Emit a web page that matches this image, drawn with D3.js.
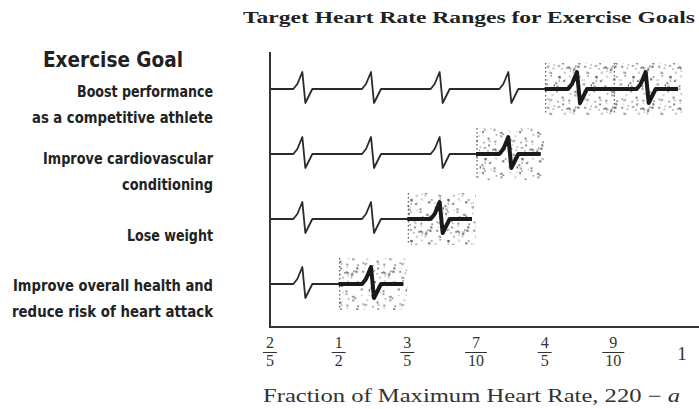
<!DOCTYPE html>
<html>
<head>
<meta charset="utf-8">
<script src="https://cdn.jsdelivr.net/npm/d3@7"></script>
<style>
  body { margin: 0; background: #fff; }
  svg { display: block; }
</style>
</head>
<body>
<svg width="699" height="409"></svg>
<script>
// goals, top row first, and their target ranges (fraction of max heart rate)
const goalLabels = [
  ['Boost performance', 'as a competitive athlete'],
  ['Improve cardiovascular', 'conditioning'],
  ['Lose weight'],
  ['Improve overall health and', 'reduce risk of heart attack']
];
const rangeLow = [0.8, 0.7, 0.6, 0.5];
const rangeHigh = [1.0, 0.8, 0.7, 0.6];

const tickValues = [0.4, 0.5, 0.6, 0.7, 0.8, 0.9, 1.0];
const tickLabels = [['2', '5'], ['1', '2'], ['3', '5'], ['7', '10'], ['4', '5'], ['9', '10'], ['1']];

const svg = d3.select('svg');

const x = d3.scaleLinear().domain([0.4, 1.0]).range([270, 682]);
const y = d3.scalePoint().domain(d3.range(goalLabels.length)).range([89, 284]);

// stipple texture for the target boxes (fixed pseudo pattern)
const defs = svg.append('defs');
const pat = defs.append('pattern')
  .attr('id', 'stipple')
  .attr('patternUnits', 'userSpaceOnUse')
  .attr('width', 37).attr('height', 41);
let seed = 11;
const next = () => { seed = (seed * 9301 + 49297) % 233280; return seed / 233280; };
for (let i = 0; i < 70; i++) {
  const s = 1 + next() * 1.4;
  pat.append('rect')
    .attr('x', (next() * 37).toFixed(1))
    .attr('y', (next() * 41).toFixed(1))
    .attr('width', s).attr('height', s)
    .attr('fill', '#444')
    .attr('opacity', 0.2 + next() * 0.55);
}

// title
svg.append('text')
  .attr('x', 243).attr('y', 23)
  .attr('textLength', 452).attr('lengthAdjust', 'spacingAndGlyphs')
  .style('font-family', '"Liberation Serif", "DejaVu Serif", serif')
  .style('font-weight', 'bold')
  .style('font-size', '16.5px')
  .attr('fill', '#222')
  .text('Target Heart Rate Ranges for Exercise Goals');

// left column
const labelFont = '"DejaVu Sans Condensed", "Liberation Sans Narrow", sans-serif';
svg.append('text')
  .attr('x', 43).attr('y', 67)
  .attr('textLength', 140).attr('lengthAdjust', 'spacingAndGlyphs')
  .style('font-family', labelFont).style('font-weight', 'bold').style('font-size', '22px')
  .attr('fill', '#222')
  .text('Exercise Goal');

const labelWidths = [[136, 181], [170, 91], [86], [200, 201]];
const labelFirstY = [97, 164, 241, 291];
goalLabels.forEach((lines, i) => {
  lines.forEach((t, j) => {
    svg.append('text')
      .attr('x', 213).attr('y', labelFirstY[i] + j * 25.5)
      .attr('text-anchor', 'end')
      .attr('textLength', labelWidths[i][j]).attr('lengthAdjust', 'spacingAndGlyphs')
      .style('font-family', labelFont).style('font-weight', 'bold').style('font-size', '16.5px')
      .attr('fill', '#222')
      .text(t);
  });
});

// target boxes, one per 0.1 interval inside each range
const boxes = [];
rangeLow.forEach((lo, i) => {
  for (let v = lo; v < rangeHigh[i] - 1e-6; v += 0.1) boxes.push({ row: i, a: v, b: v + 0.1 });
});
const boxH = 52;
svg.selectAll('rect.box').data(boxes).enter().append('rect')
  .attr('class', 'box')
  .attr('x', d => x(d.a))
  .attr('y', d => y(d.row) - boxH / 2)
  .attr('width', d => x(d.b) - x(d.a))
  .attr('height', boxH)
  .attr('fill', 'url(#stipple)');
svg.selectAll('line.boxedge').data(boxes).enter().append('line')
  .attr('x1', d => x(d.a) + 1).attr('x2', d => x(d.a) + 1)
  .attr('y1', d => y(d.row) - boxH / 2).attr('y2', d => y(d.row) + boxH / 2)
  .attr('stroke', '#555').attr('stroke-width', 1.2).attr('stroke-dasharray', '1.5,2.5');

// heartbeat line for each row
const spikePath = i => {
  const y0 = y(i);
  const pts = [[x(0.4), y0]];
  for (let v = 0.4; v < rangeHigh[i] - 1e-6; v += 0.1) {
    const m = x(v + 0.05);
    pts.push([m - 11, y0], [m - 7, y0 - 5], [m - 2, y0 - 17], [m - 1.5, y0 - 12], [m + 1, y0 + 14], [m + 8, y0]);
  }
  pts.push([x(rangeHigh[i]) - 4, y0]);
  return d3.line()(pts);
};

goalLabels.forEach((_, i) => {
  defs.append('clipPath').attr('id', 'clip' + i)
    .append('rect')
    .attr('x', x(rangeLow[i])).attr('y', y(i) - 30)
    .attr('width', x(rangeHigh[i]) - x(rangeLow[i])).attr('height', 60);

  svg.append('path')
    .attr('d', spikePath(i))
    .attr('fill', 'none').attr('stroke', '#2a2a2a')
    .attr('stroke-width', 1.8).attr('stroke-linejoin', 'round');

  svg.append('path')
    .attr('d', spikePath(i))
    .attr('clip-path', `url(#clip${i})`)
    .attr('fill', 'none').attr('stroke', '#1a1a1a')
    .attr('stroke-width', 4).attr('stroke-linejoin', 'round');
});

// axes
svg.append('line')
  .attr('x1', 270).attr('x2', 270).attr('y1', 52).attr('y2', 328)
  .attr('stroke', '#333').attr('stroke-width', 2);
svg.append('line')
  .attr('x1', 270).attr('x2', 699).attr('y1', 327).attr('y2', 327)
  .attr('stroke', '#333').attr('stroke-width', 2);

// fraction tick labels
const tickFont = '"Liberation Serif", "DejaVu Serif", serif';
const ticks = svg.selectAll('g.tick').data(tickValues).enter().append('g')
  .attr('class', 'tick')
  .attr('transform', d => `translate(${x(d)},0)`);
ticks.each(function (d, i) {
  const g = d3.select(this);
  const lab = tickLabels[i];
  const txt = (yy, s, fs) => g.append('text').attr('y', yy).attr('text-anchor', 'middle')
    .attr('font-family', tickFont).attr('font-size', fs).attr('fill', '#333').text(s);
  if (lab.length === 1) {
    txt(360, lab[0], 19);
    return;
  }
  const w = lab[1].length > 1 ? 22 : 14;
  txt(348, lab[0], 16);
  g.append('line').attr('x1', -w / 2).attr('x2', w / 2).attr('y1', 352.5).attr('y2', 352.5)
    .attr('stroke', '#333').attr('stroke-width', 1);
  txt(366, lab[1], 16);
});

// x axis title
const xt = svg.append('text')
  .attr('x', 263).attr('y', 402)
  .attr('textLength', 417).attr('lengthAdjust', 'spacingAndGlyphs')
  .style('font-family', tickFont).style('font-size', '18px').attr('fill', '#333');
xt.append('tspan').text('Fraction of Maximum Heart Rate, 220 \u2212 ');
xt.append('tspan').style('font-style', 'italic').text('a');
</script>
</body>
</html>
